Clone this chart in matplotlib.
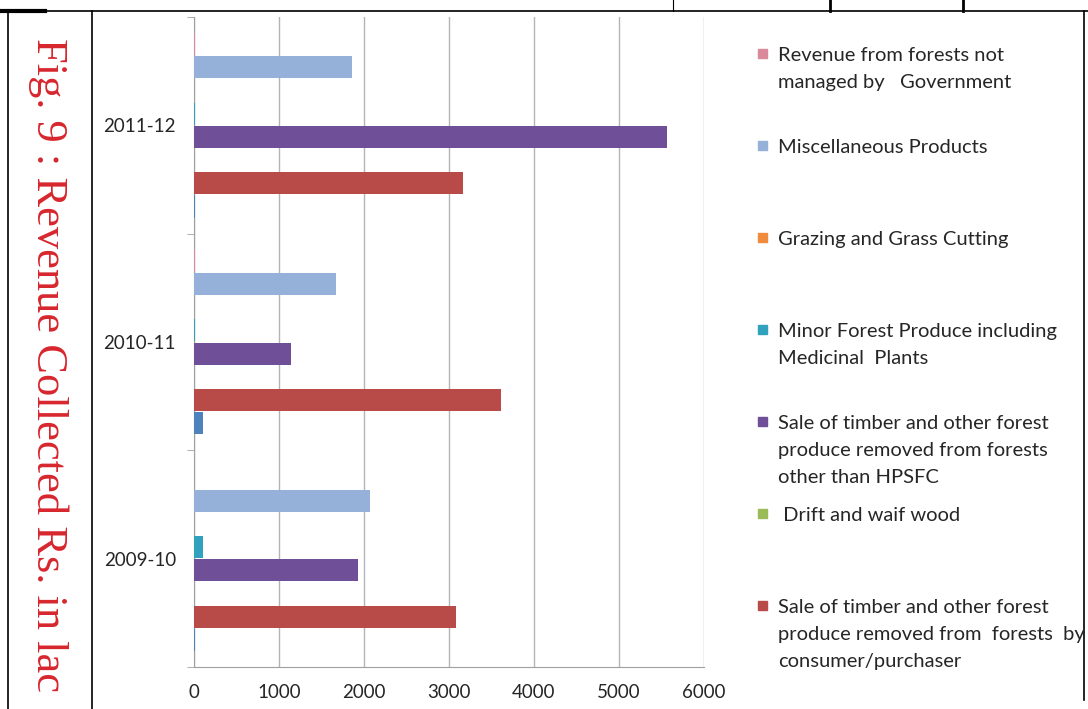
import numpy as np
import matplotlib
matplotlib.use('Agg')
import matplotlib.pyplot as plt
from matplotlib.patches import Rectangle
from matplotlib.lines import Line2D

# Revenue collected (Rs. in lac)
years = ['2009-10', '2010-11', '2011-12']

# series from the bottom of each group to the top
unlabelled = [8, 100, 8]
consumer = [3080, 3610, 3160]
drift = [3, 3, 3]
hpsfc = [1930, 1140, 5560]
minor = [100, 8, 8]
grazing = [3, 5, 5]
misc = [2070, 1670, 1860]
not_govt = [5, 10, 10]

series = [unlabelled, consumer, drift, hpsfc, minor, grazing, misc, not_govt]
colors = ['#4F81BD', '#B84A47', '#9BBB59', '#6F4F98', '#31A2BE', '#F08A3C', '#95B1DA', '#D9899A']

# legend, top to bottom
legend_labels = ['Revenue from forests not\nmanaged by   Government',
                 'Miscellaneous Products',
                 'Grazing and Grass Cutting',
                 'Minor Forest Produce including\nMedicinal  Plants',
                 'Sale of timber and other forest\nproduce removed from forests\nother than HPSFC',
                 ' Drift and waif wood',
                 'Sale of timber and other forest\nproduce removed from  forests  by\nconsumer/purchaser']
legend_colors = ['#D9899A', '#95B1DA', '#F08A3C', '#31A2BE', '#6F4F98', '#9BBB59', '#B84A47']

W, H = 1088, 709
fig = plt.figure(figsize=(W/100, H/100), dpi=100)
ax = fig.add_axes([194/W, 1-667/H, 510/W, 650/H])

font = 'Lato'
slot = 0.107
y = np.arange(len(years))
for i, vals in enumerate(series):
    ax.barh(y + (i-3.5)*slot, vals, height=0.102, color=colors[i], zorder=3)

ax.set_xlim(0, 6000)
ax.set_ylim(-0.5, 2.5)
ax.set_xticks(np.arange(0, 6001, 1000))
ax.set_yticks(y)
ax.set_yticklabels(years)
ax.set_yticks([-0.5, 0.5, 1.5, 2.5], minor=True)
ax.grid(axis='x', color='#B4B4B4', linewidth=1, zorder=0)
for s in ['top', 'right']:
    ax.spines[s].set_visible(False)
ax.spines['left'].set_color('#A0A0A0')
ax.spines['bottom'].set_color('#A0A0A0')
ax.tick_params(axis='y', which='major', length=0, pad=13)
ax.tick_params(axis='y', which='minor', length=5, color='#A0A0A0')
ax.tick_params(axis='x', length=0, pad=12)
for lab in ax.get_xticklabels() + ax.get_yticklabels():
    lab.set_fontfamily(font)
    lab.set_fontsize(13.5)
    lab.set_color('#262626')

# legend drawn by hand, one entry every 92 px
for k, (lab, c) in enumerate(zip(legend_labels, legend_colors)):
    yc = 54 + 92*k
    fig.patches.append(Rectangle((758/W, 1-(yc+4)/H), 9/W, 9/H, color=c,
                                 transform=fig.transFigure, figure=fig))
    fig.text(778/W, 1-(yc-7)/H, lab, fontfamily=font, fontsize=14.5,
             color='#262626', va='top', ha='left', linespacing=1.72)

# title, rotated, in the left box
fig.text(48/W, 1-365/H, 'Fig. 9 : Revenue Collected Rs. in lac', rotation=-90,
         fontfamily='Liberation Serif', fontsize=32, color='#D7262E',
         ha='center', va='center')

# page frame lines
def line(x0, y0, x1, y1, lw=1.2):
    fig.add_artist(Line2D([x0/W, x1/W], [1-y0/H, 1-y1/H], color='black',
                          linewidth=lw, transform=fig.transFigure))

line(0, 11, W, 11)
line(0, 11, 45, 11, lw=3)
line(8, 11, 8, H)
line(92, 11, 92, H)
line(1084, 11, 1084, 700)
line(673, 0, 673, 11, lw=0.8)
line(830, 0, 830, 11, lw=2)
line(963, 0, 963, 11, lw=2)

fig.savefig('out.png', dpi=100)
